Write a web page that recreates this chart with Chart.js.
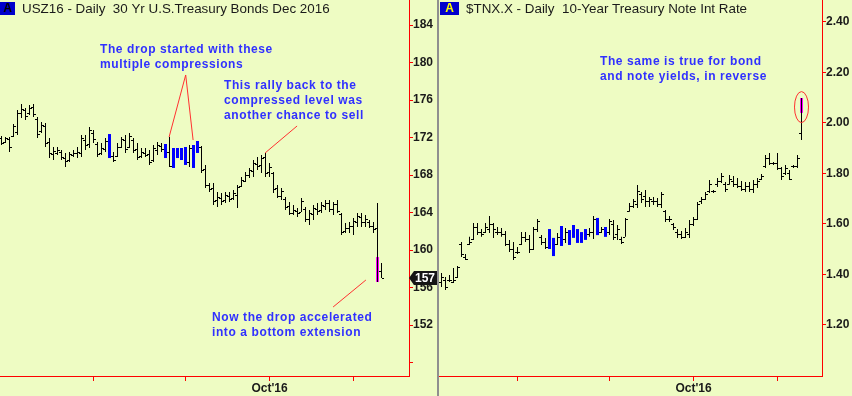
<!DOCTYPE html>
<html><head><meta charset="utf-8">
<script src="https://cdn.jsdelivr.net/npm/chart.js@4.4.1/dist/chart.umd.min.js"></script>
<style>
html,body{margin:0;padding:0;width:852px;height:396px;overflow:hidden;background:#EEFCC3;}
canvas{position:absolute;top:0;}
#c1{left:0;}
#c2{left:439px;}
#sep{position:absolute;left:437px;top:0;width:2px;height:396px;background:#8f8f8f;}
</style></head>
<body>
<canvas id="c1" width="439" height="396"></canvas>
<canvas id="c2" width="413" height="396"></canvas>
<div id="sep"></div>
<script>
// ---------- shared x axis (trading-day index; 0 = 28 Jun 2016, 95 = 10 Nov 2016) ----------
const xTickIdx = [23, 46, 67, 88];            // Aug 1, Sep 1, Oct 3, Nov 1
const xTickLbl = ['', '', "Oct'16", ''];

// ---------- USZ16 - 30 Yr U.S. Treasury Bonds Dec 2016 ----------
const bondStart = 0;
const bondHigh = [172.16,172.05,172.05,173.44,174.93,175.57,175.15,175.47,175.57,174.19,
173.65,173.55,171.95,170.99,170.99,170.67,170.35,170.45,170.67,170.99,
172.27,172.27,173.12,172.80,171.52,171.41,171.95,172.37,170.45,171.41,
172.05,172.27,172.48,171.95,171.41,170.88,170.88,170.67,171.20,171.52,
171.41,171.31,172.05,170.88,170.88,170.88,170.99,171.20,171.20,171.63,
171.09,169.07,167.15,167.15,166.19,166.08,166.19,166.19,166.40,166.93,
167.79,168.32,168.75,169.60,169.92,170.13,170.35,169.28,168.32,166.93,
166.61,165.65,165.12,164.80,164.48,165.55,164.59,164.27,164.80,165.01,
165.12,165.33,165.33,165.12,165.33,163.95,162.88,162.99,163.41,163.95,
163.95,163.73,163.20,162.99,165.01,158.61];
const bondLow = [171.20,171.41,170.45,172.05,172.27,174.08,173.87,174.40,174.19,171.95,
172.48,170.99,169.81,169.60,170.13,169.60,168.85,169.39,169.92,169.81,
169.92,170.67,170.88,171.41,169.92,170.13,170.45,169.81,169.39,169.92,
170.88,170.35,170.88,170.35,169.60,169.81,169.92,169.07,169.39,170.13,
170.45,169.81,168.85,168.75,169.81,169.60,169.07,168.85,168.75,170.35,
168.21,166.61,166.19,164.80,164.59,164.80,165.01,165.12,165.33,164.48,
166.72,167.25,167.68,167.79,168.53,168.21,167.79,167.79,166.08,165.55,
165.33,164.27,163.73,163.73,163.52,164.05,162.99,162.67,163.20,163.73,
163.95,164.27,164.05,163.73,163.95,161.60,161.81,161.81,161.60,162.45,
162.45,162.45,162.35,161.81,156.59,157.01];
const bondOpen = [171.9,171.5,171.8,172.2,172.6,174.6,174.9,174.6,175.3,174.0,
172.7,173.2,171.5,170.2,170.4,170.5,169.8,169.6,170.1,170.3,
170.3,171.7,171.3,172.5,171.3,170.4,170.8,172.0,170.0,170.0,
171.0,171.7,171.0,171.7,170.8,170.0,170.4,170.2,169.6,170.7,
171.1,170.9,170.5,169.2,170.5,170.2,170.6,169.4,170.8,170.6,
171.0,168.6,166.9,166.6,165.3,165.6,165.3,165.8,165.5,165.9,
166.8,167.4,168.0,168.4,169.2,169.1,169.9,168.3,168.2,166.6,
165.8,165.4,164.7,164.0,164.2,164.1,164.4,163.3,163.8,164.4,
164.3,164.7,165.0,164.4,164.9,163.8,162.0,162.3,162.6,163.0,
163.5,163.0,163.0,162.6,162.3,157.8];
const bondClose = [171.4,171.9,171.0,173.2,174.6,175.0,174.3,175.2,174.5,172.4,
173.3,171.4,170.3,170.6,170.7,169.9,169.5,170.2,170.4,170.5,
171.9,171.2,172.8,171.8,170.2,170.9,171.6,170.0,169.6,171.0,
171.8,170.8,172.2,170.7,169.9,170.5,170.1,169.4,170.9,171.2,
170.8,170.1,169.0,170.5,170.2,170.6,169.5,170.9,169.4,171.2,
168.5,166.9,166.5,165.2,165.7,165.2,165.9,165.4,166.1,166.7,
167.5,168.0,168.5,169.3,169.0,169.8,168.2,168.9,166.5,165.8,
166.3,164.6,164.0,164.3,163.9,165.2,163.3,163.9,164.5,164.2,
164.8,165.0,164.4,164.9,164.2,161.9,162.4,162.6,163.1,163.6,
163.0,163.3,162.6,162.2,157.6,157.0];
const bondBlue = [27, 41, 43, 44, 45, 46, 48, 49];     // compression bars
const bondPinkIdx = [94];                              // extension bar
const bondPinkTop = [159.25];
const bondPinkBot = [156.59];
const bondYTicks = [148, 152, 156, 160, 164, 168, 172, 176, 180, 184];
const bondLast = 157;

// ---------- $TNX.X - 10-Year Treasury Note Int Rate (index 4 .. 94) ----------
const tnxStart = 4;
const tnxHigh = [1.406,1.390,1.398,1.426,1.434,1.529,1.481,1.549,1.604,1.604,
1.580,1.604,1.632,1.604,1.588,1.584,1.572,1.537,1.529,1.509,
1.568,1.568,1.556,1.588,1.620,1.556,1.545,1.580,1.545,1.564,
1.592,1.584,1.576,1.596,1.580,1.568,1.580,1.584,1.632,1.624,
1.588,1.588,1.620,1.616,1.596,1.549,1.624,1.683,1.699,1.754,
1.727,1.735,1.707,1.707,1.703,1.727,1.655,1.632,1.604,1.580,
1.572,1.584,1.616,1.628,1.687,1.707,1.727,1.774,1.735,1.782,
1.802,1.766,1.794,1.790,1.782,1.770,1.766,1.766,1.774,1.782,
1.798,1.873,1.881,1.846,1.881,1.826,1.834,1.814,1.834,1.873,2.099];
const tnxLow = [1.350,1.339,1.370,1.366,1.386,1.469,1.457,1.517,1.537,1.556,
1.549,1.564,1.564,1.545,1.556,1.549,1.513,1.489,1.457,1.481,
1.517,1.529,1.485,1.497,1.568,1.517,1.501,1.501,1.473,1.517,
1.513,1.525,1.517,1.545,1.525,1.525,1.537,1.549,1.541,1.556,
1.564,1.549,1.556,1.537,1.537,1.521,1.549,1.648,1.663,1.663,
1.683,1.667,1.667,1.675,1.667,1.663,1.608,1.608,1.576,1.545,
1.541,1.545,1.545,1.592,1.616,1.679,1.695,1.723,1.723,1.747,
1.762,1.727,1.755,1.747,1.743,1.731,1.727,1.727,1.723,1.743,
1.774,1.822,1.834,1.834,1.814,1.774,1.794,1.774,1.822,1.822,1.933];
const tnxOpen = [1.37,1.38,1.38,1.37,1.39,1.52,1.47,1.52,1.54,1.59,
1.57,1.57,1.58,1.60,1.57,1.57,1.56,1.52,1.50,1.49,
1.52,1.55,1.54,1.50,1.58,1.55,1.53,1.56,1.53,1.52,
1.55,1.54,1.56,1.58,1.56,1.55,1.56,1.56,1.57,1.60,
1.57,1.57,1.57,1.60,1.56,1.54,1.55,1.65,1.67,1.68,
1.72,1.71,1.69,1.69,1.69,1.68,1.65,1.62,1.60,1.57,
1.56,1.55,1.56,1.60,1.62,1.69,1.70,1.73,1.73,1.76,
1.77,1.76,1.76,1.77,1.76,1.75,1.74,1.75,1.74,1.76,
1.78,1.83,1.86,1.84,1.84,1.82,1.80,1.80,1.83,1.83,1.96];
const tnxClose = [1.39,1.35,1.38,1.38,1.43,1.48,1.46,1.53,1.59,1.57,
1.56,1.59,1.60,1.58,1.57,1.56,1.52,1.50,1.47,1.49,
1.55,1.54,1.50,1.58,1.61,1.53,1.51,1.51,1.53,1.55,
1.58,1.57,1.53,1.58,1.53,1.56,1.55,1.57,1.62,1.57,
1.58,1.58,1.61,1.55,1.58,1.53,1.62,1.67,1.69,1.73,
1.70,1.69,1.70,1.69,1.68,1.72,1.62,1.62,1.59,1.56,
1.55,1.57,1.60,1.62,1.68,1.70,1.72,1.76,1.73,1.77,
1.79,1.74,1.78,1.76,1.75,1.74,1.75,1.74,1.76,1.77,
1.79,1.86,1.84,1.84,1.82,1.79,1.82,1.78,1.83,1.86,2.06];
const tnxBlue = [31, 32, 34, 36, 37, 38, 39, 40, 43, 45];
const tnxPinkIdx = [94];
const tnxPinkTop = [2.099];
const tnxPinkBot = [2.040];
const tnxYTicks = [1.20, 1.40, 1.60, 1.80, 2.00, 2.20, 2.40];

// ---------- styling ----------
const RED = '#ff0000';
const TICKFONT = {family: 'Arial, "Liberation Sans", sans-serif', size: 12, weight: 'bold'};
const NOTE_BLUE = '#3030ff';
const NOTE_FONT = 'bold 12px Arial, "Liberation Sans", sans-serif';

function noteText(ctx, lines, x, y0, lh) {
  ctx.save();
  ctx.fillStyle = NOTE_BLUE;
  ctx.font = NOTE_FONT;
  try { ctx.letterSpacing = '0.6px'; } catch (e) {}
  ctx.textBaseline = 'middle';
  ctx.textAlign = 'left';
  lines.forEach((t, k) => ctx.fillText(t, x, y0 + k * lh));
  ctx.restore();
}
function seg(ctx, xs, ys, a, b) {
  ctx.beginPath();
  ctx.moveTo(xs.getPixelForValue(a[0]), ys.getPixelForValue(a[1]));
  ctx.lineTo(xs.getPixelForValue(b[0]), ys.getPixelForValue(b[1]));
  ctx.stroke();
}
function titleBox(ctx, bx, bw, letterColor, title) {
  ctx.save();
  ctx.fillStyle = '#0000cc';
  ctx.fillRect(bx, 2, bw, 13);
  ctx.fillStyle = letterColor;
  ctx.font = 'bold 12px Arial, "Liberation Sans", sans-serif';
  ctx.textBaseline = 'middle';
  ctx.textAlign = 'center';
  ctx.fillText('A', bx + bw / 2 + (bx < 0 ? 2 : 0), 9);
  ctx.fillStyle = '#1a1a1a';
  ctx.font = '13.4px Arial, "Liberation Sans", sans-serif';
  ctx.textAlign = 'left';
  ctx.fillText(title, bx + bw + 7, 9);
  ctx.restore();
}

function ohlcChart(canvasId, d) {
  const idx = d.high.map((_, k) => d.start + k);
  const rng = (k) => ({x: idx[k], y: [d.low[k], d.high[k]]});
  const thin = idx.map((i, k) => rng(k)).filter(p => !d.blue.includes(p.x));
  const blue = idx.map((i, k) => rng(k)).filter(p => d.blue.includes(p.x));
  const pink = d.pinkIdx.map((i, j) => ({x: i, y: [d.pinkBot[j], d.pinkTop[j]]}));
  const barDs = (data, color, w) => ({
    type: 'bar', data, backgroundColor: color, barThickness: w, grouped: false,
    borderWidth: 0, inflateAmount: 0, borderSkipped: false
  });

  const tickPlugin = {
    id: 'ocTicks',
    afterDatasetsDraw(chart) {
      const {ctx, scales: {x, y}} = chart;
      ctx.save();
      ctx.fillStyle = '#000';
      idx.forEach((i, k) => {
        if (d.blue.includes(i)) return;
        const px = Math.floor(x.getPixelForValue(i));
        const isPink = d.pinkIdx.includes(i);
        ctx.fillRect(px - 2, Math.round(y.getPixelForValue(d.open[k])), 2, 1);
        if (!isPink) ctx.fillRect(px + 1, Math.round(y.getPixelForValue(d.close[k])), 2, 1);
      });
      ctx.restore();
    }
  };
  const decoPlugin = { id: 'deco', afterDraw: (chart) => d.deco(chart) };

  return new Chart(document.getElementById(canvasId), {
    type: 'bar',
    data: { datasets: [barDs(thin, '#000', 1), barDs(blue, '#0000ff', 3), barDs(pink, '#ff00ff', 3)] },
    options: {
      responsive: false, animation: false, devicePixelRatio: 1,
      layout: { padding: 0 },
      plugins: { legend: { display: false }, tooltip: { enabled: false }, title: { display: false } },
      scales: {
        x: {
          type: 'linear', min: d.xMin, max: d.xMax, offset: false, position: 'bottom',
          border: { color: RED, width: 1 },
          grid: { offset: false, drawOnChartArea: false, drawTicks: true, tickLength: 5, color: RED },
          ticks: {
            autoSkip: false, maxRotation: 0, padding: 0, font: TICKFONT, color: '#1a1a1a',
            callback: (v) => { const j = xTickIdx.indexOf(v); return j < 0 ? '' : xTickLbl[j]; }
          },
          afterBuildTicks: (s) => { s.ticks = xTickIdx.map(v => ({value: v})); },
          afterFit: (s) => { s.height = 20; s.paddingLeft = 0; s.paddingRight = 0; }
        },
        y: {
          type: 'linear', position: 'right', min: d.yMin, max: d.yMax,
          border: { color: RED, width: 1 },
          grid: { offset: false, drawOnChartArea: false, drawTicks: true, tickLength: 4, color: RED },
          ticks: { padding: 0, font: TICKFONT, color: '#1a1a1a', callback: d.yFmt },
          afterBuildTicks: (s) => { s.ticks = d.yTicks.map(v => ({value: v})); },
          afterFit: (s) => { s.width = 30; s.paddingTop = 0; s.paddingBottom = 0; }
        }
      }
    },
    plugins: [tickPlugin, decoPlugin]
  });
}

// Left: bonds
ohlcChart('c1', {
  start: bondStart, high: bondHigh, low: bondLow, open: bondOpen, close: bondClose,
  blue: bondBlue, pinkIdx: bondPinkIdx, pinkTop: bondPinkTop, pinkBot: bondPinkBot,
  xMin: -0.375, xMax: 101.875, yMin: 146.56, yMax: 186.667, yTicks: bondYTicks,
  yFmt: (v) => (v === 148 ? '' : String(v)),
  deco(chart) {
    const {ctx, scales: {x, y}} = chart;
    ctx.save();
    ctx.strokeStyle = '#ff3030'; ctx.lineWidth = 1;
    seg(ctx, x, y, [46.05, 178.67], [41.9, 172.05]);
    seg(ctx, x, y, [46.05, 178.67], [47.9, 171.73]);
    seg(ctx, x, y, [73.9, 173.23], [65.9, 170.35]);
    seg(ctx, x, y, [91.1, 156.8], [82.9, 153.92]);
    ctx.restore();
    noteText(ctx, ['The drop started with these', 'multiple compressions'], 100, 50, 15);
    noteText(ctx, ['This rally back to the', 'compressed level was', 'another chance to sell'], 224, 86, 15);
    noteText(ctx, ['Now the drop accelerated', 'into a bottom extension'], 212, 318, 15);
    titleBox(ctx, -4, 19, '#000', 'USZ16 - Daily  30 Yr U.S.Treasury Bonds Dec 2016');
    // last price marker
    const py = Math.round(y.getPixelForValue(bondLast));
    const ax = chart.chartArea.right;
    ctx.save();
    ctx.fillStyle = '#151515';
    ctx.beginPath();
    ctx.moveTo(ax, py);
    ctx.lineTo(ax + 5, py - 7);
    ctx.lineTo(ax + 28, py - 7);
    ctx.lineTo(ax + 28, py + 7);
    ctx.lineTo(ax + 5, py + 7);
    ctx.closePath();
    ctx.fill();
    ctx.fillStyle = '#ffffff';
    ctx.font = 'bold 12px Arial, "Liberation Sans", sans-serif';
    ctx.textBaseline = 'middle';
    ctx.fillText(String(bondLast), ax + 6, py + 0.5);
    ctx.restore();
  }
});

// Right: 10-year yield
ohlcChart('c2', {
  start: tnxStart, high: tnxHigh, low: tnxLow, open: tnxOpen, close: tnxClose,
  blue: tnxBlue, pinkIdx: tnxPinkIdx, pinkTop: tnxPinkTop, pinkBot: tnxPinkBot,
  xMin: 3.375, xMax: 99.125, yMin: 0.998, yMax: 2.4871, yTicks: tnxYTicks,
  yFmt: (v) => v.toFixed(2),
  deco(chart) {
    const {ctx, scales: {x, y}} = chart;
    ctx.save();
    ctx.strokeStyle = '#ff3030'; ctx.lineWidth = 1;
    ctx.beginPath();
    ctx.ellipse(x.getPixelForValue(94), y.getPixelForValue(2.063), 7, 15.5, 0, 0, Math.PI * 2);
    ctx.stroke();
    ctx.restore();
    noteText(ctx, ['The same is true for bond', 'and note yields, in reverse'], 161, 62, 15);
    titleBox(ctx, 1, 19, '#ffff00', '$TNX.X - Daily  10-Year Treasury Note Int Rate');
  }
});
</script>
</body></html>
